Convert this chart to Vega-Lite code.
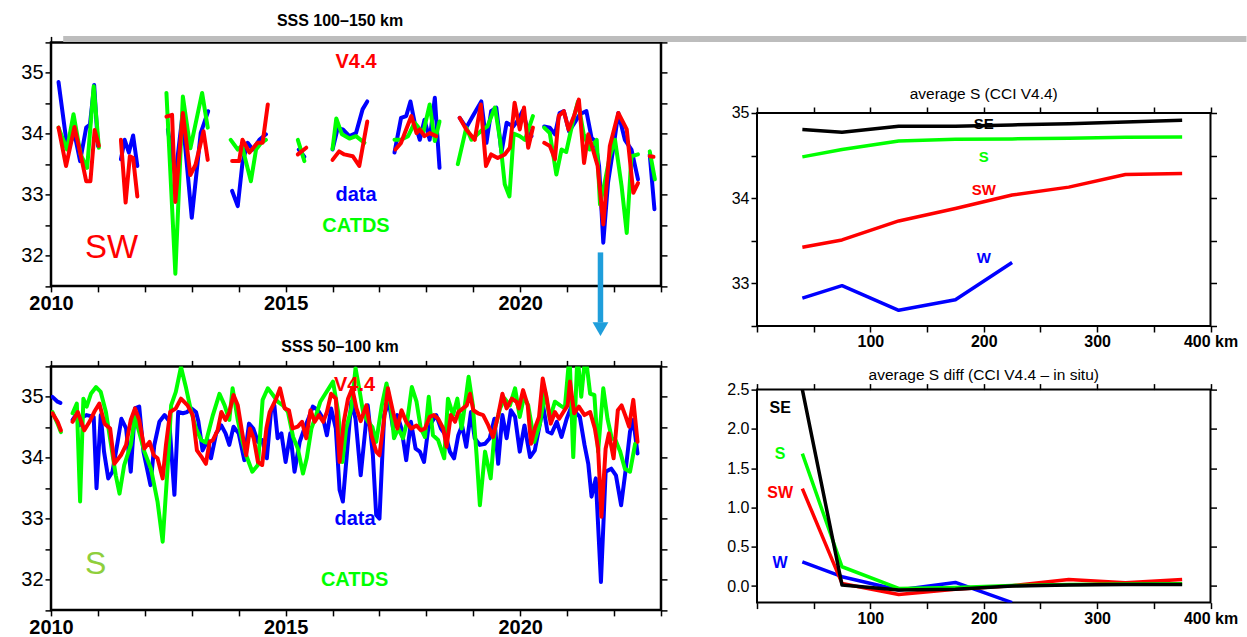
{
"$schema": "https://vega.github.io/schema/vega-lite/v6.json",
"padding": {"left": 19, "top": 11.4, "right": 0, "bottom": 0},
"background": "white",
"config": {
 "font": "Liberation Sans",
 "view": {"stroke": "black", "strokeWidth": 2.5},
 "axis": {"domain": false, "grid": false, "tickColor": "black", "tickWidth": 1.5, "tickSize": 6, "labelColor": "black", "labelFont": "Liberation Sans", "labelPadding": 2, "labelOverlap": false, "labelFlush": false, "labelBound": false},
 "title": {"font": "Liberation Sans", "color": "black"}
},
"datasets": {
 "tl": [
  {"t":2010.16,"v":34.85,"s":"data","g":"dA"},{"t":2010.35,"v":33.75,"s":"data","g":"dA"},{"t":2010.5,"v":34.0,"s":"data","g":"dA"},{"t":2010.62,"v":33.55,"s":"data","g":"dA"},{"t":2010.75,"v":34.1,"s":"data","g":"dA"},{"t":2010.83,"v":34.15,"s":"data","g":"dA"},{"t":2010.92,"v":34.8,"s":"data","g":"dA"},{"t":2011.0,"v":33.8,"s":"data","g":"dA"},
  {"t":2011.49,"v":33.58,"s":"data","g":"dB"},{"t":2011.57,"v":33.9,"s":"data","g":"dB"},{"t":2011.66,"v":33.69,"s":"data","g":"dB"},{"t":2011.75,"v":33.97,"s":"data","g":"dB"},{"t":2011.84,"v":33.47,"s":"data","g":"dB"},
  {"t":2012.49,"v":34.07,"s":"data","g":"dC"},{"t":2012.65,"v":33.3,"s":"data","g":"dC"},{"t":2012.8,"v":34.29,"s":"data","g":"dC"},{"t":2013.0,"v":32.62,"s":"data","g":"dC"},{"t":2013.19,"v":34.01,"s":"data","g":"dC"},{"t":2013.35,"v":34.37,"s":"data","g":"dC"},
  {"t":2013.86,"v":33.06,"s":"data","g":"dD"},{"t":2013.98,"v":32.81,"s":"data","g":"dD"},{"t":2014.08,"v":33.52,"s":"data","g":"dD"},{"t":2014.19,"v":33.85,"s":"data","g":"dD"},{"t":2014.3,"v":33.74,"s":"data","g":"dD"},{"t":2014.44,"v":33.9,"s":"data","g":"dD"},{"t":2014.58,"v":33.99,"s":"data","g":"dD"},
  {"t":2015.28,"v":33.74,"s":"data","g":"dE"},{"t":2015.4,"v":33.62,"s":"data","g":"dE"},
  {"t":2016.0,"v":33.74,"s":"data","g":"dF"},{"t":2016.11,"v":34.09,"s":"data","g":"dF"},{"t":2016.22,"v":34.07,"s":"data","g":"dF"},{"t":2016.36,"v":33.96,"s":"data","g":"dF"},{"t":2016.5,"v":34.01,"s":"data","g":"dF"},{"t":2016.64,"v":34.4,"s":"data","g":"dF"},{"t":2016.74,"v":34.53,"s":"data","g":"dF"},
  {"t":2017.32,"v":33.69,"s":"data","g":"dG"},{"t":2017.46,"v":34.26,"s":"data","g":"dG"},{"t":2017.57,"v":34.29,"s":"data","g":"dG"},{"t":2017.66,"v":34.53,"s":"data","g":"dG"},{"t":2017.75,"v":34.18,"s":"data","g":"dG"},{"t":2017.86,"v":33.9,"s":"data","g":"dG"},{"t":2017.96,"v":34.23,"s":"data","g":"dG"},{"t":2018.07,"v":33.9,"s":"data","g":"dG"},{"t":2018.18,"v":34.59,"s":"data","g":"dG"},{"t":2018.28,"v":33.44,"s":"data","g":"dG"},
  {"t":2018.71,"v":34.26,"s":"data","g":"dH"},{"t":2018.85,"v":34.1,"s":"data","g":"dH"},{"t":2018.99,"v":34.29,"s":"data","g":"dH"},{"t":2019.17,"v":34.53,"s":"data","g":"dH"},{"t":2019.28,"v":33.85,"s":"data","g":"dH"},{"t":2019.38,"v":34.37,"s":"data","g":"dH"},{"t":2019.49,"v":34.43,"s":"data","g":"dH"},{"t":2019.6,"v":33.69,"s":"data","g":"dH"},{"t":2019.71,"v":34.18,"s":"data","g":"dH"},{"t":2019.85,"v":34.12,"s":"data","g":"dH"},{"t":2019.96,"v":34.23,"s":"data","g":"dH"},{"t":2020.05,"v":34.37,"s":"data","g":"dH"},{"t":2020.13,"v":34.15,"s":"data","g":"dH"},{"t":2020.24,"v":33.96,"s":"data","g":"dH"},
  {"t":2020.51,"v":34.12,"s":"data","g":"dI"},{"t":2020.63,"v":34.1,"s":"data","g":"dI"},{"t":2020.74,"v":33.99,"s":"data","g":"dI"},{"t":2020.84,"v":34.34,"s":"data","g":"dI"},{"t":2020.93,"v":34.37,"s":"data","g":"dI"},{"t":2021.04,"v":34.04,"s":"data","g":"dI"},{"t":2021.16,"v":34.18,"s":"data","g":"dI"},{"t":2021.27,"v":34.32,"s":"data","g":"dI"},{"t":2021.41,"v":34.37,"s":"data","g":"dI"},{"t":2021.52,"v":33.93,"s":"data","g":"dI"},{"t":2021.6,"v":33.88,"s":"data","g":"dI"},{"t":2021.68,"v":33.47,"s":"data","g":"dI"},{"t":2021.77,"v":32.21,"s":"data","g":"dI"},{"t":2021.87,"v":33.19,"s":"data","g":"dI"},{"t":2021.98,"v":33.74,"s":"data","g":"dI"},{"t":2022.09,"v":34.34,"s":"data","g":"dI"},{"t":2022.23,"v":33.9,"s":"data","g":"dI"},{"t":2022.37,"v":33.74,"s":"data","g":"dI"},{"t":2022.51,"v":33.25,"s":"data","g":"dI"},
  {"t":2022.76,"v":33.66,"s":"data","g":"dJ"},{"t":2022.86,"v":32.76,"s":"data","g":"dJ"},
  {"t":2010.16,"v":34.1,"s":"CATDS","g":"cA"},{"t":2010.34,"v":33.74,"s":"CATDS","g":"cA"},{"t":2010.48,"v":34.32,"s":"CATDS","g":"cA"},{"t":2010.63,"v":33.66,"s":"CATDS","g":"cA"},{"t":2010.77,"v":33.44,"s":"CATDS","g":"cA"},{"t":2010.91,"v":34.78,"s":"CATDS","g":"cA"},{"t":2011.02,"v":33.77,"s":"CATDS","g":"cA"},
  {"t":2012.46,"v":34.67,"s":"CATDS","g":"cC"},{"t":2012.65,"v":31.7,"s":"CATDS","g":"cC"},{"t":2012.81,"v":34.61,"s":"CATDS","g":"cC"},{"t":2012.97,"v":33.76,"s":"CATDS","g":"cC"},{"t":2013.22,"v":34.67,"s":"CATDS","g":"cC"},{"t":2013.34,"v":34.1,"s":"CATDS","g":"cC"},
  {"t":2013.83,"v":33.9,"s":"CATDS","g":"cD"},{"t":2013.98,"v":33.74,"s":"CATDS","g":"cD"},{"t":2014.07,"v":33.8,"s":"CATDS","g":"cD"},{"t":2014.26,"v":33.22,"s":"CATDS","g":"cD"},{"t":2014.37,"v":33.74,"s":"CATDS","g":"cD"},{"t":2014.48,"v":33.85,"s":"CATDS","g":"cD"},{"t":2014.58,"v":33.9,"s":"CATDS","g":"cD"},
  {"t":2015.26,"v":33.9,"s":"CATDS","g":"cE"},{"t":2015.4,"v":33.55,"s":"CATDS","g":"cE"},
  {"t":2016.0,"v":33.75,"s":"CATDS","g":"cF"},{"t":2016.08,"v":34.25,"s":"CATDS","g":"cF"},{"t":2016.2,"v":33.99,"s":"CATDS","g":"cF"},{"t":2016.36,"v":33.92,"s":"CATDS","g":"cF"},{"t":2016.5,"v":33.96,"s":"CATDS","g":"cF"},{"t":2016.68,"v":33.85,"s":"CATDS","g":"cF"},
  {"t":2017.32,"v":33.9,"s":"CATDS","g":"cG"},{"t":2017.46,"v":33.9,"s":"CATDS","g":"cG"},{"t":2017.61,"v":33.96,"s":"CATDS","g":"cG"},{"t":2017.75,"v":34.18,"s":"CATDS","g":"cG"},{"t":2017.93,"v":34.01,"s":"CATDS","g":"cG"},{"t":2018.07,"v":34.48,"s":"CATDS","g":"cG"},{"t":2018.18,"v":33.88,"s":"CATDS","g":"cG"},{"t":2018.28,"v":34.2,"s":"CATDS","g":"cG"},
  {"t":2018.67,"v":33.5,"s":"CATDS","g":"cH"},{"t":2018.85,"v":34.1,"s":"CATDS","g":"cH"},{"t":2018.96,"v":33.9,"s":"CATDS","g":"cH"},{"t":2019.17,"v":34.05,"s":"CATDS","g":"cH"},{"t":2019.3,"v":34.12,"s":"CATDS","g":"cH"},{"t":2019.46,"v":34.43,"s":"CATDS","g":"cH"},{"t":2019.57,"v":33.9,"s":"CATDS","g":"cH"},{"t":2019.67,"v":33.17,"s":"CATDS","g":"cH"},{"t":2019.77,"v":32.97,"s":"CATDS","g":"cH"},{"t":2019.86,"v":34.0,"s":"CATDS","g":"cH"},{"t":2019.99,"v":33.96,"s":"CATDS","g":"cH"},{"t":2020.1,"v":33.9,"s":"CATDS","g":"cH"},{"t":2020.27,"v":34.29,"s":"CATDS","g":"cH"},
  {"t":2020.51,"v":34.1,"s":"CATDS","g":"cI"},{"t":2020.63,"v":34.01,"s":"CATDS","g":"cI"},{"t":2020.77,"v":33.33,"s":"CATDS","g":"cI"},{"t":2020.88,"v":33.74,"s":"CATDS","g":"cI"},{"t":2020.98,"v":33.7,"s":"CATDS","g":"cI"},{"t":2021.13,"v":34.23,"s":"CATDS","g":"cI"},{"t":2021.23,"v":34.53,"s":"CATDS","g":"cI"},{"t":2021.35,"v":34.0,"s":"CATDS","g":"cI"},{"t":2021.48,"v":33.74,"s":"CATDS","g":"cI"},{"t":2021.63,"v":33.9,"s":"CATDS","g":"cI"},{"t":2021.7,"v":32.84,"s":"CATDS","g":"cI"},{"t":2021.8,"v":33.2,"s":"CATDS","g":"cI"},{"t":2021.91,"v":33.63,"s":"CATDS","g":"cI"},{"t":2022.02,"v":33.9,"s":"CATDS","g":"cI"},{"t":2022.16,"v":33.14,"s":"CATDS","g":"cI"},{"t":2022.27,"v":32.37,"s":"CATDS","g":"cI"},{"t":2022.37,"v":33.63,"s":"CATDS","g":"cI"},{"t":2022.51,"v":33.66,"s":"CATDS","g":"cI"},
  {"t":2022.76,"v":33.71,"s":"CATDS","g":"cJ"},{"t":2022.87,"v":33.25,"s":"CATDS","g":"cJ"},
  {"t":2010.16,"v":34.1,"s":"V4.4","g":"rA"},{"t":2010.32,"v":33.47,"s":"V4.4","g":"rA"},{"t":2010.5,"v":34.11,"s":"V4.4","g":"rA"},{"t":2010.63,"v":33.66,"s":"V4.4","g":"rA"},{"t":2010.75,"v":33.22,"s":"V4.4","g":"rA"},{"t":2010.84,"v":33.22,"s":"V4.4","g":"rA"},{"t":2010.93,"v":34.06,"s":"V4.4","g":"rA"},{"t":2011.02,"v":33.8,"s":"V4.4","g":"rA"},
  {"t":2011.49,"v":33.9,"s":"V4.4","g":"rB"},{"t":2011.59,"v":32.87,"s":"V4.4","g":"rB"},{"t":2011.68,"v":33.63,"s":"V4.4","g":"rB"},{"t":2011.75,"v":33.6,"s":"V4.4","g":"rB"},{"t":2011.84,"v":32.97,"s":"V4.4","g":"rB"},
  {"t":2012.46,"v":34.28,"s":"V4.4","g":"rC"},{"t":2012.58,"v":34.31,"s":"V4.4","g":"rC"},{"t":2012.65,"v":32.88,"s":"V4.4","g":"rC"},{"t":2012.81,"v":34.34,"s":"V4.4","g":"rC"},{"t":2012.97,"v":33.32,"s":"V4.4","g":"rC"},{"t":2013.08,"v":33.49,"s":"V4.4","g":"rC"},{"t":2013.25,"v":34.04,"s":"V4.4","g":"rC"},{"t":2013.34,"v":33.57,"s":"V4.4","g":"rC"},
  {"t":2013.86,"v":33.55,"s":"V4.4","g":"rD"},{"t":2014.01,"v":33.55,"s":"V4.4","g":"rD"},{"t":2014.08,"v":33.9,"s":"V4.4","g":"rD"},{"t":2014.23,"v":33.69,"s":"V4.4","g":"rD"},{"t":2014.4,"v":33.85,"s":"V4.4","g":"rD"},{"t":2014.51,"v":33.85,"s":"V4.4","g":"rD"},{"t":2014.62,"v":34.48,"s":"V4.4","g":"rD"},
  {"t":2015.26,"v":33.66,"s":"V4.4","g":"rE"},{"t":2015.44,"v":33.77,"s":"V4.4","g":"rE"},
  {"t":2016.0,"v":33.57,"s":"V4.4","g":"rF"},{"t":2016.14,"v":33.71,"s":"V4.4","g":"rF"},{"t":2016.25,"v":33.66,"s":"V4.4","g":"rF"},{"t":2016.43,"v":33.63,"s":"V4.4","g":"rF"},{"t":2016.57,"v":33.47,"s":"V4.4","g":"rF"},{"t":2016.74,"v":34.2,"s":"V4.4","g":"rF"},
  {"t":2017.34,"v":33.74,"s":"V4.4","g":"rG"},{"t":2017.46,"v":33.85,"s":"V4.4","g":"rG"},{"t":2017.68,"v":34.29,"s":"V4.4","g":"rG"},{"t":2017.79,"v":34.01,"s":"V4.4","g":"rG"},{"t":2017.86,"v":34.07,"s":"V4.4","g":"rG"},{"t":2017.96,"v":33.96,"s":"V4.4","g":"rG"},{"t":2018.07,"v":34.01,"s":"V4.4","g":"rG"},{"t":2018.21,"v":33.96,"s":"V4.4","g":"rG"},
  {"t":2018.71,"v":34.26,"s":"V4.4","g":"rH"},{"t":2018.85,"v":34.07,"s":"V4.4","g":"rH"},{"t":2019.03,"v":33.9,"s":"V4.4","g":"rH"},{"t":2019.16,"v":34.48,"s":"V4.4","g":"rH"},{"t":2019.27,"v":33.47,"s":"V4.4","g":"rH"},{"t":2019.38,"v":33.66,"s":"V4.4","g":"rH"},{"t":2019.52,"v":33.6,"s":"V4.4","g":"rH"},{"t":2019.67,"v":33.66,"s":"V4.4","g":"rH"},{"t":2019.78,"v":33.77,"s":"V4.4","g":"rH"},{"t":2019.88,"v":34.51,"s":"V4.4","g":"rH"},{"t":2019.99,"v":34.07,"s":"V4.4","g":"rH"},{"t":2020.08,"v":34.43,"s":"V4.4","g":"rH"},{"t":2020.17,"v":33.77,"s":"V4.4","g":"rH"},{"t":2020.27,"v":34.1,"s":"V4.4","g":"rH"},
  {"t":2020.51,"v":33.85,"s":"V4.4","g":"rI"},{"t":2020.63,"v":33.8,"s":"V4.4","g":"rI"},{"t":2020.74,"v":33.58,"s":"V4.4","g":"rI"},{"t":2020.82,"v":34.29,"s":"V4.4","g":"rI"},{"t":2020.93,"v":34.37,"s":"V4.4","g":"rI"},{"t":2021.03,"v":34.07,"s":"V4.4","g":"rI"},{"t":2021.15,"v":34.3,"s":"V4.4","g":"rI"},{"t":2021.25,"v":34.56,"s":"V4.4","g":"rI"},{"t":2021.36,"v":33.52,"s":"V4.4","g":"rI"},{"t":2021.45,"v":33.99,"s":"V4.4","g":"rI"},{"t":2021.55,"v":33.74,"s":"V4.4","g":"rI"},{"t":2021.65,"v":33.47,"s":"V4.4","g":"rI"},{"t":2021.77,"v":32.51,"s":"V4.4","g":"rI"},{"t":2021.91,"v":33.8,"s":"V4.4","g":"rI"},{"t":2022.09,"v":34.34,"s":"V4.4","g":"rI"},{"t":2022.27,"v":34.07,"s":"V4.4","g":"rI"},{"t":2022.41,"v":33.03,"s":"V4.4","g":"rI"},{"t":2022.51,"v":33.19,"s":"V4.4","g":"rI"},
  {"t":2022.76,"v":33.63,"s":"V4.4","g":"rJ"},{"t":2022.84,"v":33.62,"s":"V4.4","g":"rJ"}
 ],
 "bl": [
  {"t":2010.03,"v":35.0,"s":"data","g":"d0"},{"t":2010.14,"v":34.92,"s":"data","g":"d0"},{"t":2010.2,"v":34.9,"s":"data","g":"d0"},
  {"t":2010.46,"v":34.62,"s":"data","g":"d1"},{"t":2010.53,"v":34.7,"s":"data","g":"d1"},{"t":2010.6,"v":34.53,"s":"data","g":"d1"},{"t":2010.67,"v":34.67,"s":"data","g":"d1"},{"t":2010.76,"v":34.7,"s":"data","g":"d1"},{"t":2010.91,"v":34.67,"s":"data","g":"d1"},{"t":2010.97,"v":33.5,"s":"data","g":"d1"},{"t":2011.06,"v":34.7,"s":"data","g":"d1"},{"t":2011.13,"v":34.1,"s":"data","g":"d1"},{"t":2011.22,"v":33.66,"s":"data","g":"d1"},{"t":2011.31,"v":33.77,"s":"data","g":"d1"},{"t":2011.42,"v":34.26,"s":"data","g":"d1"},{"t":2011.5,"v":34.64,"s":"data","g":"d1"},{"t":2011.6,"v":34.48,"s":"data","g":"d1"},{"t":2011.7,"v":33.77,"s":"data","g":"d1"},{"t":2011.79,"v":34.81,"s":"data","g":"d1"},{"t":2011.88,"v":34.84,"s":"data","g":"d1"},{"t":2011.97,"v":34.1,"s":"data","g":"d1"},{"t":2012.12,"v":33.55,"s":"data","g":"d1"},{"t":2012.2,"v":34.2,"s":"data","g":"d1"},{"t":2012.31,"v":34.59,"s":"data","g":"d1"},{"t":2012.42,"v":34.7,"s":"data","g":"d1"},{"t":2012.52,"v":34.6,"s":"data","g":"d1"},{"t":2012.63,"v":33.39,"s":"data","g":"d1"},{"t":2012.71,"v":34.75,"s":"data","g":"d1"},{"t":2012.81,"v":34.73,"s":"data","g":"d1"},{"t":2012.9,"v":34.75,"s":"data","g":"d1"},{"t":2012.99,"v":34.81,"s":"data","g":"d1"},{"t":2013.09,"v":34.75,"s":"data","g":"d1"},{"t":2013.14,"v":34.6,"s":"data","g":"d1"},{"t":2013.23,"v":34.12,"s":"data","g":"d1"},{"t":2013.34,"v":34.29,"s":"data","g":"d1"},{"t":2013.41,"v":33.99,"s":"data","g":"d1"},{"t":2013.52,"v":34.4,"s":"data","g":"d1"},{"t":2013.63,"v":34.53,"s":"data","g":"d1"},{"t":2013.72,"v":34.4,"s":"data","g":"d1"},{"t":2013.8,"v":34.21,"s":"data","g":"d1"},{"t":2013.89,"v":34.51,"s":"data","g":"d1"},{"t":2014.0,"v":34.4,"s":"data","g":"d1"},{"t":2014.12,"v":33.96,"s":"data","g":"d1"},{"t":2014.22,"v":34.56,"s":"data","g":"d1"},{"t":2014.31,"v":34.48,"s":"data","g":"d1"},{"t":2014.41,"v":34.26,"s":"data","g":"d1"},{"t":2014.5,"v":34.29,"s":"data","g":"d1"},{"t":2014.6,"v":33.99,"s":"data","g":"d1"},{"t":2014.69,"v":34.78,"s":"data","g":"d1"},{"t":2014.76,"v":34.86,"s":"data","g":"d1"},{"t":2014.83,"v":34.32,"s":"data","g":"d1"},{"t":2014.91,"v":34.4,"s":"data","g":"d1"},{"t":2015.0,"v":33.93,"s":"data","g":"d1"},{"t":2015.1,"v":34.4,"s":"data","g":"d1"},{"t":2015.19,"v":33.77,"s":"data","g":"d1"},{"t":2015.3,"v":34.26,"s":"data","g":"d1"},{"t":2015.4,"v":34.48,"s":"data","g":"d1"},{"t":2015.5,"v":34.67,"s":"data","g":"d1"},{"t":2015.58,"v":34.84,"s":"data","g":"d1"},{"t":2015.69,"v":34.78,"s":"data","g":"d1"},{"t":2015.8,"v":34.64,"s":"data","g":"d1"},{"t":2015.88,"v":34.37,"s":"data","g":"d1"},{"t":2015.97,"v":34.81,"s":"data","g":"d1"},{"t":2016.07,"v":34.48,"s":"data","g":"d1"},{"t":2016.15,"v":33.47,"s":"data","g":"d1"},{"t":2016.22,"v":33.28,"s":"data","g":"d1"},{"t":2016.31,"v":34.1,"s":"data","g":"d1"},{"t":2016.4,"v":34.92,"s":"data","g":"d1"},{"t":2016.49,"v":34.64,"s":"data","g":"d1"},{"t":2016.6,"v":33.71,"s":"data","g":"d1"},{"t":2016.75,"v":34.86,"s":"data","g":"d1"},{"t":2016.86,"v":34.04,"s":"data","g":"d1"},{"t":2016.93,"v":33.06,"s":"data","g":"d1"},{"t":2017.0,"v":33.0,"s":"data","g":"d1"},{"t":2017.1,"v":34.7,"s":"data","g":"d1"},{"t":2017.2,"v":34.92,"s":"data","g":"d1"},{"t":2017.29,"v":34.48,"s":"data","g":"d1"},{"t":2017.38,"v":34.7,"s":"data","g":"d1"},{"t":2017.47,"v":34.48,"s":"data","g":"d1"},{"t":2017.57,"v":33.96,"s":"data","g":"d1"},{"t":2017.67,"v":34.59,"s":"data","g":"d1"},{"t":2017.77,"v":34.15,"s":"data","g":"d1"},{"t":2017.86,"v":34.1,"s":"data","g":"d1"},{"t":2017.95,"v":33.93,"s":"data","g":"d1"},{"t":2018.04,"v":34.48,"s":"data","g":"d1"},{"t":2018.12,"v":34.59,"s":"data","g":"d1"},{"t":2018.21,"v":34.7,"s":"data","g":"d1"},{"t":2018.31,"v":34.48,"s":"data","g":"d1"},{"t":2018.41,"v":34.37,"s":"data","g":"d1"},{"t":2018.5,"v":34.1,"s":"data","g":"d1"},{"t":2018.59,"v":33.99,"s":"data","g":"d1"},{"t":2018.68,"v":34.37,"s":"data","g":"d1"},{"t":2018.76,"v":34.53,"s":"data","g":"d1"},{"t":2018.85,"v":34.18,"s":"data","g":"d1"},{"t":2018.95,"v":34.75,"s":"data","g":"d1"},{"t":2019.03,"v":34.32,"s":"data","g":"d1"},{"t":2019.14,"v":34.21,"s":"data","g":"d1"},{"t":2019.25,"v":34.23,"s":"data","g":"d1"},{"t":2019.35,"v":34.32,"s":"data","g":"d1"},{"t":2019.45,"v":34.64,"s":"data","g":"d1"},{"t":2019.53,"v":33.9,"s":"data","g":"d1"},{"t":2019.62,"v":34.7,"s":"data","g":"d1"},{"t":2019.71,"v":34.32,"s":"data","g":"d1"},{"t":2019.8,"v":34.78,"s":"data","g":"d1"},{"t":2019.89,"v":34.67,"s":"data","g":"d1"},{"t":2019.99,"v":34.1,"s":"data","g":"d1"},{"t":2020.09,"v":34.53,"s":"data","g":"d1"},{"t":2020.21,"v":34.01,"s":"data","g":"d1"},{"t":2020.31,"v":34.12,"s":"data","g":"d1"},{"t":2020.42,"v":34.56,"s":"data","g":"d1"},{"t":2020.49,"v":34.84,"s":"data","g":"d1"},{"t":2020.58,"v":34.43,"s":"data","g":"d1"},{"t":2020.67,"v":34.4,"s":"data","g":"d1"},{"t":2020.78,"v":34.59,"s":"data","g":"d1"},{"t":2020.88,"v":34.34,"s":"data","g":"d1"},{"t":2020.99,"v":34.64,"s":"data","g":"d1"},{"t":2021.1,"v":34.86,"s":"data","g":"d1"},{"t":2021.2,"v":34.73,"s":"data","g":"d1"},{"t":2021.27,"v":34.67,"s":"data","g":"d1"},{"t":2021.37,"v":34.21,"s":"data","g":"d1"},{"t":2021.45,"v":33.9,"s":"data","g":"d1"},{"t":2021.52,"v":33.36,"s":"data","g":"d1"},{"t":2021.61,"v":33.66,"s":"data","g":"d1"},{"t":2021.72,"v":31.96,"s":"data","g":"d1"},{"t":2021.82,"v":33.77,"s":"data","g":"d1"},{"t":2021.94,"v":33.82,"s":"data","g":"d1"},{"t":2022.04,"v":33.71,"s":"data","g":"d1"},{"t":2022.15,"v":33.22,"s":"data","g":"d1"},{"t":2022.25,"v":33.82,"s":"data","g":"d1"},{"t":2022.34,"v":34.43,"s":"data","g":"d1"},{"t":2022.41,"v":34.62,"s":"data","g":"d1"},{"t":2022.5,"v":34.07,"s":"data","g":"d1"},
  {"t":2010.03,"v":34.75,"s":"CATDS","g":"c0"},{"t":2010.14,"v":34.56,"s":"CATDS","g":"c0"},{"t":2010.21,"v":34.42,"s":"CATDS","g":"c0"},
  {"t":2010.46,"v":34.73,"s":"CATDS","g":"c1"},{"t":2010.55,"v":34.89,"s":"CATDS","g":"c1"},{"t":2010.62,"v":33.28,"s":"CATDS","g":"c1"},{"t":2010.69,"v":34.97,"s":"CATDS","g":"c1"},{"t":2010.76,"v":34.84,"s":"CATDS","g":"c1"},{"t":2010.85,"v":35.05,"s":"CATDS","g":"c1"},{"t":2010.96,"v":35.16,"s":"CATDS","g":"c1"},{"t":2011.06,"v":35.08,"s":"CATDS","g":"c1"},{"t":2011.17,"v":34.75,"s":"CATDS","g":"c1"},{"t":2011.28,"v":34.21,"s":"CATDS","g":"c1"},{"t":2011.38,"v":33.71,"s":"CATDS","g":"c1"},{"t":2011.46,"v":33.41,"s":"CATDS","g":"c1"},{"t":2011.56,"v":33.88,"s":"CATDS","g":"c1"},{"t":2011.7,"v":34.21,"s":"CATDS","g":"c1"},{"t":2011.79,"v":34.67,"s":"CATDS","g":"c1"},{"t":2011.88,"v":34.42,"s":"CATDS","g":"c1"},{"t":2011.99,"v":34.1,"s":"CATDS","g":"c1"},{"t":2012.13,"v":33.82,"s":"CATDS","g":"c1"},{"t":2012.27,"v":33.28,"s":"CATDS","g":"c1"},{"t":2012.38,"v":32.62,"s":"CATDS","g":"c1"},{"t":2012.49,"v":33.9,"s":"CATDS","g":"c1"},{"t":2012.56,"v":34.86,"s":"CATDS","g":"c1"},{"t":2012.66,"v":35.08,"s":"CATDS","g":"c1"},{"t":2012.77,"v":35.49,"s":"CATDS","g":"c1"},{"t":2012.88,"v":35.14,"s":"CATDS","g":"c1"},{"t":2012.99,"v":34.75,"s":"CATDS","g":"c1"},{"t":2013.09,"v":34.48,"s":"CATDS","g":"c1"},{"t":2013.2,"v":34.29,"s":"CATDS","g":"c1"},{"t":2013.3,"v":34.25,"s":"CATDS","g":"c1"},{"t":2013.45,"v":34.7,"s":"CATDS","g":"c1"},{"t":2013.59,"v":35.05,"s":"CATDS","g":"c1"},{"t":2013.7,"v":34.86,"s":"CATDS","g":"c1"},{"t":2013.8,"v":34.62,"s":"CATDS","g":"c1"},{"t":2013.87,"v":35.14,"s":"CATDS","g":"c1"},{"t":2013.98,"v":34.62,"s":"CATDS","g":"c1"},{"t":2014.07,"v":34.3,"s":"CATDS","g":"c1"},{"t":2014.16,"v":34.04,"s":"CATDS","g":"c1"},{"t":2014.29,"v":33.77,"s":"CATDS","g":"c1"},{"t":2014.41,"v":33.88,"s":"CATDS","g":"c1"},{"t":2014.51,"v":34.95,"s":"CATDS","g":"c1"},{"t":2014.62,"v":35.14,"s":"CATDS","g":"c1"},{"t":2014.73,"v":35.03,"s":"CATDS","g":"c1"},{"t":2014.83,"v":34.92,"s":"CATDS","g":"c1"},{"t":2014.94,"v":34.86,"s":"CATDS","g":"c1"},{"t":2015.05,"v":34.75,"s":"CATDS","g":"c1"},{"t":2015.16,"v":34.34,"s":"CATDS","g":"c1"},{"t":2015.26,"v":34.15,"s":"CATDS","g":"c1"},{"t":2015.37,"v":33.74,"s":"CATDS","g":"c1"},{"t":2015.45,"v":33.99,"s":"CATDS","g":"c1"},{"t":2015.55,"v":34.48,"s":"CATDS","g":"c1"},{"t":2015.65,"v":34.7,"s":"CATDS","g":"c1"},{"t":2015.74,"v":34.92,"s":"CATDS","g":"c1"},{"t":2015.83,"v":35.03,"s":"CATDS","g":"c1"},{"t":2015.92,"v":35.14,"s":"CATDS","g":"c1"},{"t":2016.01,"v":35.25,"s":"CATDS","g":"c1"},{"t":2016.12,"v":34.75,"s":"CATDS","g":"c1"},{"t":2016.21,"v":33.93,"s":"CATDS","g":"c1"},{"t":2016.29,"v":34.48,"s":"CATDS","g":"c1"},{"t":2016.4,"v":34.81,"s":"CATDS","g":"c1"},{"t":2016.49,"v":35.47,"s":"CATDS","g":"c1"},{"t":2016.58,"v":35.08,"s":"CATDS","g":"c1"},{"t":2016.65,"v":34.75,"s":"CATDS","g":"c1"},{"t":2016.75,"v":34.6,"s":"CATDS","g":"c1"},{"t":2016.85,"v":34.5,"s":"CATDS","g":"c1"},{"t":2016.93,"v":34.26,"s":"CATDS","g":"c1"},{"t":2017.05,"v":34.86,"s":"CATDS","g":"c1"},{"t":2017.15,"v":35.22,"s":"CATDS","g":"c1"},{"t":2017.24,"v":34.86,"s":"CATDS","g":"c1"},{"t":2017.31,"v":34.32,"s":"CATDS","g":"c1"},{"t":2017.4,"v":34.48,"s":"CATDS","g":"c1"},{"t":2017.5,"v":34.32,"s":"CATDS","g":"c1"},{"t":2017.59,"v":34.59,"s":"CATDS","g":"c1"},{"t":2017.69,"v":35.16,"s":"CATDS","g":"c1"},{"t":2017.79,"v":34.92,"s":"CATDS","g":"c1"},{"t":2017.88,"v":34.48,"s":"CATDS","g":"c1"},{"t":2017.97,"v":34.34,"s":"CATDS","g":"c1"},{"t":2018.05,"v":35.0,"s":"CATDS","g":"c1"},{"t":2018.14,"v":34.37,"s":"CATDS","g":"c1"},{"t":2018.25,"v":34.29,"s":"CATDS","g":"c1"},{"t":2018.38,"v":33.99,"s":"CATDS","g":"c1"},{"t":2018.46,"v":34.97,"s":"CATDS","g":"c1"},{"t":2018.57,"v":34.7,"s":"CATDS","g":"c1"},{"t":2018.66,"v":34.97,"s":"CATDS","g":"c1"},{"t":2018.75,"v":34.48,"s":"CATDS","g":"c1"},{"t":2018.82,"v":34.86,"s":"CATDS","g":"c1"},{"t":2018.9,"v":35.33,"s":"CATDS","g":"c1"},{"t":2018.99,"v":34.86,"s":"CATDS","g":"c1"},{"t":2019.07,"v":34.04,"s":"CATDS","g":"c1"},{"t":2019.14,"v":33.22,"s":"CATDS","g":"c1"},{"t":2019.25,"v":34.1,"s":"CATDS","g":"c1"},{"t":2019.37,"v":33.66,"s":"CATDS","g":"c1"},{"t":2019.46,"v":34.48,"s":"CATDS","g":"c1"},{"t":2019.57,"v":34.81,"s":"CATDS","g":"c1"},{"t":2019.67,"v":34.97,"s":"CATDS","g":"c1"},{"t":2019.78,"v":34.86,"s":"CATDS","g":"c1"},{"t":2019.89,"v":35.14,"s":"CATDS","g":"c1"},{"t":2019.99,"v":34.67,"s":"CATDS","g":"c1"},{"t":2020.08,"v":35.0,"s":"CATDS","g":"c1"},{"t":2020.17,"v":34.86,"s":"CATDS","g":"c1"},{"t":2020.3,"v":34.26,"s":"CATDS","g":"c1"},{"t":2020.42,"v":34.56,"s":"CATDS","g":"c1"},{"t":2020.53,"v":35.08,"s":"CATDS","g":"c1"},{"t":2020.63,"v":34.64,"s":"CATDS","g":"c1"},{"t":2020.74,"v":34.92,"s":"CATDS","g":"c1"},{"t":2020.85,"v":34.86,"s":"CATDS","g":"c1"},{"t":2020.95,"v":34.81,"s":"CATDS","g":"c1"},{"t":2021.05,"v":35.7,"s":"CATDS","g":"c1"},{"t":2021.13,"v":34.01,"s":"CATDS","g":"c1"},{"t":2021.22,"v":35.7,"s":"CATDS","g":"c1"},{"t":2021.3,"v":35.0,"s":"CATDS","g":"c1"},{"t":2021.39,"v":35.7,"s":"CATDS","g":"c1"},{"t":2021.49,"v":35.05,"s":"CATDS","g":"c1"},{"t":2021.58,"v":35.03,"s":"CATDS","g":"c1"},{"t":2021.66,"v":34.1,"s":"CATDS","g":"c1"},{"t":2021.77,"v":35.14,"s":"CATDS","g":"c1"},{"t":2021.86,"v":34.64,"s":"CATDS","g":"c1"},{"t":2021.95,"v":34.32,"s":"CATDS","g":"c1"},{"t":2022.03,"v":34.29,"s":"CATDS","g":"c1"},{"t":2022.13,"v":34.1,"s":"CATDS","g":"c1"},{"t":2022.23,"v":33.82,"s":"CATDS","g":"c1"},{"t":2022.34,"v":33.77,"s":"CATDS","g":"c1"},{"t":2022.45,"v":34.23,"s":"CATDS","g":"c1"},
  {"t":2010.03,"v":34.73,"s":"V4.4","g":"r0"},{"t":2010.14,"v":34.59,"s":"V4.4","g":"r0"},{"t":2010.21,"v":34.45,"s":"V4.4","g":"r0"},
  {"t":2010.46,"v":34.59,"s":"V4.4","g":"r1"},{"t":2010.57,"v":34.75,"s":"V4.4","g":"r1"},{"t":2010.71,"v":34.45,"s":"V4.4","g":"r1"},{"t":2010.82,"v":34.59,"s":"V4.4","g":"r1"},{"t":2010.92,"v":34.75,"s":"V4.4","g":"r1"},{"t":2011.03,"v":34.89,"s":"V4.4","g":"r1"},{"t":2011.14,"v":34.56,"s":"V4.4","g":"r1"},{"t":2011.26,"v":34.48,"s":"V4.4","g":"r1"},{"t":2011.35,"v":33.9,"s":"V4.4","g":"r1"},{"t":2011.49,"v":34.04,"s":"V4.4","g":"r1"},{"t":2011.6,"v":34.21,"s":"V4.4","g":"r1"},{"t":2011.7,"v":34.62,"s":"V4.4","g":"r1"},{"t":2011.79,"v":34.81,"s":"V4.4","g":"r1"},{"t":2011.88,"v":34.62,"s":"V4.4","g":"r1"},{"t":2011.99,"v":34.15,"s":"V4.4","g":"r1"},{"t":2012.1,"v":34.26,"s":"V4.4","g":"r1"},{"t":2012.19,"v":34.04,"s":"V4.4","g":"r1"},{"t":2012.27,"v":33.99,"s":"V4.4","g":"r1"},{"t":2012.38,"v":33.66,"s":"V4.4","g":"r1"},{"t":2012.45,"v":34.21,"s":"V4.4","g":"r1"},{"t":2012.54,"v":34.75,"s":"V4.4","g":"r1"},{"t":2012.66,"v":34.81,"s":"V4.4","g":"r1"},{"t":2012.77,"v":34.97,"s":"V4.4","g":"r1"},{"t":2012.91,"v":34.86,"s":"V4.4","g":"r1"},{"t":2013.02,"v":34.7,"s":"V4.4","g":"r1"},{"t":2013.11,"v":34.12,"s":"V4.4","g":"r1"},{"t":2013.22,"v":34.0,"s":"V4.4","g":"r1"},{"t":2013.3,"v":33.9,"s":"V4.4","g":"r1"},{"t":2013.38,"v":34.26,"s":"V4.4","g":"r1"},{"t":2013.45,"v":34.29,"s":"V4.4","g":"r1"},{"t":2013.55,"v":34.45,"s":"V4.4","g":"r1"},{"t":2013.63,"v":34.75,"s":"V4.4","g":"r1"},{"t":2013.72,"v":34.62,"s":"V4.4","g":"r1"},{"t":2013.8,"v":34.75,"s":"V4.4","g":"r1"},{"t":2013.89,"v":35.03,"s":"V4.4","g":"r1"},{"t":2013.98,"v":34.86,"s":"V4.4","g":"r1"},{"t":2014.07,"v":34.43,"s":"V4.4","g":"r1"},{"t":2014.16,"v":34.04,"s":"V4.4","g":"r1"},{"t":2014.24,"v":34.48,"s":"V4.4","g":"r1"},{"t":2014.32,"v":34.32,"s":"V4.4","g":"r1"},{"t":2014.41,"v":33.93,"s":"V4.4","g":"r1"},{"t":2014.5,"v":33.88,"s":"V4.4","g":"r1"},{"t":2014.59,"v":34.48,"s":"V4.4","g":"r1"},{"t":2014.66,"v":34.75,"s":"V4.4","g":"r1"},{"t":2014.73,"v":34.86,"s":"V4.4","g":"r1"},{"t":2014.8,"v":34.97,"s":"V4.4","g":"r1"},{"t":2014.88,"v":35.14,"s":"V4.4","g":"r1"},{"t":2014.98,"v":34.81,"s":"V4.4","g":"r1"},{"t":2015.07,"v":34.78,"s":"V4.4","g":"r1"},{"t":2015.15,"v":34.48,"s":"V4.4","g":"r1"},{"t":2015.26,"v":34.51,"s":"V4.4","g":"r1"},{"t":2015.35,"v":34.59,"s":"V4.4","g":"r1"},{"t":2015.44,"v":34.32,"s":"V4.4","g":"r1"},{"t":2015.53,"v":34.78,"s":"V4.4","g":"r1"},{"t":2015.62,"v":34.59,"s":"V4.4","g":"r1"},{"t":2015.71,"v":34.7,"s":"V4.4","g":"r1"},{"t":2015.8,"v":34.59,"s":"V4.4","g":"r1"},{"t":2015.88,"v":34.75,"s":"V4.4","g":"r1"},{"t":2015.97,"v":35.05,"s":"V4.4","g":"r1"},{"t":2016.07,"v":34.97,"s":"V4.4","g":"r1"},{"t":2016.15,"v":33.93,"s":"V4.4","g":"r1"},{"t":2016.24,"v":34.59,"s":"V4.4","g":"r1"},{"t":2016.33,"v":34.97,"s":"V4.4","g":"r1"},{"t":2016.42,"v":35.14,"s":"V4.4","g":"r1"},{"t":2016.51,"v":34.81,"s":"V4.4","g":"r1"},{"t":2016.6,"v":34.6,"s":"V4.4","g":"r1"},{"t":2016.72,"v":34.86,"s":"V4.4","g":"r1"},{"t":2016.83,"v":34.37,"s":"V4.4","g":"r1"},{"t":2016.93,"v":34.1,"s":"V4.4","g":"r1"},{"t":2017.0,"v":34.04,"s":"V4.4","g":"r1"},{"t":2017.1,"v":34.64,"s":"V4.4","g":"r1"},{"t":2017.18,"v":35.14,"s":"V4.4","g":"r1"},{"t":2017.29,"v":34.75,"s":"V4.4","g":"r1"},{"t":2017.38,"v":34.48,"s":"V4.4","g":"r1"},{"t":2017.47,"v":34.78,"s":"V4.4","g":"r1"},{"t":2017.57,"v":34.59,"s":"V4.4","g":"r1"},{"t":2017.68,"v":34.48,"s":"V4.4","g":"r1"},{"t":2017.79,"v":34.53,"s":"V4.4","g":"r1"},{"t":2017.88,"v":34.45,"s":"V4.4","g":"r1"},{"t":2017.97,"v":34.48,"s":"V4.4","g":"r1"},{"t":2018.07,"v":34.67,"s":"V4.4","g":"r1"},{"t":2018.16,"v":34.7,"s":"V4.4","g":"r1"},{"t":2018.25,"v":34.64,"s":"V4.4","g":"r1"},{"t":2018.36,"v":34.48,"s":"V4.4","g":"r1"},{"t":2018.43,"v":34.18,"s":"V4.4","g":"r1"},{"t":2018.52,"v":34.7,"s":"V4.4","g":"r1"},{"t":2018.61,"v":34.59,"s":"V4.4","g":"r1"},{"t":2018.68,"v":34.75,"s":"V4.4","g":"r1"},{"t":2018.78,"v":34.81,"s":"V4.4","g":"r1"},{"t":2018.86,"v":34.86,"s":"V4.4","g":"r1"},{"t":2018.93,"v":35.05,"s":"V4.4","g":"r1"},{"t":2019.0,"v":34.78,"s":"V4.4","g":"r1"},{"t":2019.1,"v":34.73,"s":"V4.4","g":"r1"},{"t":2019.21,"v":34.7,"s":"V4.4","g":"r1"},{"t":2019.32,"v":34.53,"s":"V4.4","g":"r1"},{"t":2019.42,"v":34.34,"s":"V4.4","g":"r1"},{"t":2019.53,"v":34.7,"s":"V4.4","g":"r1"},{"t":2019.62,"v":35.05,"s":"V4.4","g":"r1"},{"t":2019.71,"v":34.81,"s":"V4.4","g":"r1"},{"t":2019.82,"v":34.97,"s":"V4.4","g":"r1"},{"t":2019.92,"v":34.92,"s":"V4.4","g":"r1"},{"t":2019.97,"v":34.81,"s":"V4.4","g":"r1"},{"t":2020.06,"v":35.11,"s":"V4.4","g":"r1"},{"t":2020.16,"v":34.86,"s":"V4.4","g":"r1"},{"t":2020.23,"v":34.23,"s":"V4.4","g":"r1"},{"t":2020.31,"v":34.48,"s":"V4.4","g":"r1"},{"t":2020.4,"v":34.67,"s":"V4.4","g":"r1"},{"t":2020.48,"v":35.3,"s":"V4.4","g":"r1"},{"t":2020.56,"v":35.0,"s":"V4.4","g":"r1"},{"t":2020.65,"v":34.56,"s":"V4.4","g":"r1"},{"t":2020.74,"v":34.75,"s":"V4.4","g":"r1"},{"t":2020.83,"v":34.64,"s":"V4.4","g":"r1"},{"t":2020.92,"v":34.75,"s":"V4.4","g":"r1"},{"t":2021.01,"v":34.86,"s":"V4.4","g":"r1"},{"t":2021.06,"v":35.25,"s":"V4.4","g":"r1"},{"t":2021.15,"v":34.73,"s":"V4.4","g":"r1"},{"t":2021.25,"v":34.84,"s":"V4.4","g":"r1"},{"t":2021.37,"v":34.7,"s":"V4.4","g":"r1"},{"t":2021.49,"v":34.75,"s":"V4.4","g":"r1"},{"t":2021.59,"v":34.48,"s":"V4.4","g":"r1"},{"t":2021.66,"v":34.15,"s":"V4.4","g":"r1"},{"t":2021.73,"v":33.03,"s":"V4.4","g":"r1"},{"t":2021.82,"v":34.15,"s":"V4.4","g":"r1"},{"t":2021.89,"v":34.4,"s":"V4.4","g":"r1"},{"t":2021.99,"v":33.99,"s":"V4.4","g":"r1"},{"t":2022.08,"v":34.78,"s":"V4.4","g":"r1"},{"t":2022.16,"v":34.86,"s":"V4.4","g":"r1"},{"t":2022.25,"v":34.67,"s":"V4.4","g":"r1"},{"t":2022.32,"v":34.51,"s":"V4.4","g":"r1"},{"t":2022.41,"v":34.95,"s":"V4.4","g":"r1"},{"t":2022.5,"v":34.26,"s":"V4.4","g":"r1"}
 ],
 "avg": [
  {"km":40,"v":32.828,"s":"W"},{"km":75,"v":32.973,"s":"W"},{"km":125,"v":32.684,"s":"W"},{"km":175,"v":32.809,"s":"W"},{"km":225,"v":33.246,"s":"W"},
  {"km":40,"v":33.425,"s":"SW"},{"km":75,"v":33.51,"s":"SW"},{"km":125,"v":33.733,"s":"SW"},{"km":175,"v":33.88,"s":"SW"},{"km":225,"v":34.037,"s":"SW"},{"km":275,"v":34.13,"s":"SW"},{"km":325,"v":34.279,"s":"SW"},{"km":375,"v":34.29,"s":"SW"},
  {"km":40,"v":34.485,"s":"S"},{"km":75,"v":34.571,"s":"S"},{"km":125,"v":34.672,"s":"S"},{"km":175,"v":34.692,"s":"S"},{"km":225,"v":34.696,"s":"S"},{"km":275,"v":34.704,"s":"S"},{"km":325,"v":34.715,"s":"S"},{"km":375,"v":34.719,"s":"S"},
  {"km":40,"v":34.805,"s":"SE"},{"km":75,"v":34.774,"s":"SE"},{"km":125,"v":34.844,"s":"SE"},{"km":175,"v":34.844,"s":"SE"},{"km":225,"v":34.86,"s":"SE"},{"km":275,"v":34.875,"s":"SE"},{"km":325,"v":34.895,"s":"SE"},{"km":375,"v":34.914,"s":"SE"}
 ],
 "dif": [
  {"km":40,"v":0.309,"s":"W"},{"km":75,"v":0.119,"s":"W"},{"km":125,"v":-0.05,"s":"W"},{"km":175,"v":0.047,"s":"W"},{"km":225,"v":-0.21,"s":"W"},
  {"km":40,"v":1.24,"s":"SW"},{"km":75,"v":0.034,"s":"SW"},{"km":125,"v":-0.106,"s":"SW"},{"km":175,"v":-0.04,"s":"SW"},{"km":225,"v":0.004,"s":"SW"},{"km":275,"v":0.085,"s":"SW"},{"km":325,"v":0.042,"s":"SW"},{"km":375,"v":0.085,"s":"SW"},
  {"km":40,"v":1.686,"s":"S"},{"km":75,"v":0.246,"s":"S"},{"km":125,"v":-0.03,"s":"S"},{"km":175,"v":-0.017,"s":"S"},{"km":225,"v":0.008,"s":"S"},{"km":275,"v":0.02,"s":"S"},{"km":325,"v":0.025,"s":"S"},{"km":375,"v":0.03,"s":"S"},
  {"km":40,"v":2.5,"s":"SE"},{"km":75,"v":0.013,"s":"SE"},{"km":125,"v":-0.05,"s":"SE"},{"km":175,"v":-0.04,"s":"SE"},{"km":225,"v":0.0,"s":"SE"},{"km":275,"v":0.013,"s":"SE"},{"km":325,"v":0.02,"s":"SE"},{"km":375,"v":0.02,"s":"SE"}
 ],
 "tlLab": [{"t":2016.5,"v":35.18,"label":"V4.4","s":"V4.4"},{"t":2016.5,"v":32.99,"label":"data","s":"data"},{"t":2016.5,"v":32.49,"label":"CATDS","s":"CATDS"}],
 "blLab": [{"t":2016.47,"v":35.2,"label":"V4.4","s":"V4.4"},{"t":2016.48,"v":33.0,"label":"data","s":"data"},{"t":2016.47,"v":31.99,"label":"CATDS","s":"CATDS"}],
 "avgLab": [{"km":200,"v":34.876,"label":"SE","s":"SE"},{"km":200,"v":34.485,"label":"S","s":"S"},{"km":200,"v":34.096,"label":"SW","s":"SW"},{"km":200,"v":33.297,"label":"W","s":"W"}],
 "difLab": [{"km":20.4,"v":2.27,"label":"SE","s":"SE"},{"km":20.4,"v":1.686,"label":"S","s":"S"},{"km":20.4,"v":1.178,"label":"SW","s":"SW"},{"km":20.4,"v":0.288,"label":"W","s":"W"}]
},
"spacing": -5,
"hconcat": [
 {
  "bounds": "flush",
  "spacing": 80,
  "vconcat": [
   {
    "width": 610, "height": 243.5,
    "title": {"text": "SSS 100–150 km", "fontSize": 16, "fontWeight": "bold", "offset": 3, "dx": -16},
    "layer": [
     {"data": {"values": [{}]}, "mark": {"type": "rect", "color": "#bdbdbd"},
      "encoding": {"x": {"datum": 2010.26, "type": "quantitative", "axis": null}, "x2": {"datum": 2023.875}, "y": {"datum": 35.6035, "type": "quantitative", "axis": null}, "y2": {"datum": 35.505}}},
     {"data": {"name": "tl"}, "mark": {"type": "line", "strokeWidth": 4, "clip": true, "strokeJoin": "round", "strokeCap": "round"},
      "encoding": {
       "x": {"field": "t", "type": "quantitative", "scale": {"domain": [2010, 2023], "nice": false, "zero": false},
             "axis": {"orient": "bottom", "title": null, "values": [2010,2011,2012,2013,2014,2015,2016,2017,2018,2019,2020,2021,2022,2023], "format": "d", "labelExpr": "datum.value % 5 == 0 ? datum.label : ''", "labelFontSize": 20, "labelFontWeight": "bold"}},
       "y": {"field": "v", "type": "quantitative", "scale": {"domain": [31.5, 35.5], "nice": false, "zero": false},
             "axis": {"orient": "left", "title": null, "values": [31.5,32,32.5,33,33.5,34,34.5,35,35.5], "format": ".0f", "labelExpr": "datum.value % 1 == 0 ? datum.label : ''", "labelFontSize": 20}},
       "color": {"field": "s", "type": "nominal", "legend": null, "scale": {"domain": ["data","CATDS","V4.4","W","SW","S","SE"], "range": ["#0000ff","#00ff00","#ff0000","#0000ff","#ff0000","#00ff00","#000000"]}},
       "detail": {"field": "g", "type": "nominal"}
      }},
     {"data": {"name": "tl"}, "mark": {"type": "point", "opacity": 0},
      "encoding": {
       "x": {"field": "t", "type": "quantitative", "axis": {"orient": "top", "title": null, "labels": false, "values": [2010,2011,2012,2013,2014,2015,2016,2017,2018,2019,2020,2021,2022,2023]}},
       "y": {"field": "v", "type": "quantitative", "axis": {"orient": "right", "title": null, "labels": false, "values": [31.5,32,32.5,33,33.5,34,34.5,35,35.5]}}
      }},
     {"data": {"name": "tlLab"}, "mark": {"type": "text", "fontSize": 20, "fontWeight": "bold", "align": "center", "baseline": "middle"},
      "encoding": {"x": {"field": "t", "type": "quantitative", "axis": null}, "y": {"field": "v", "type": "quantitative", "axis": null}, "text": {"field": "label"},
       "color": {"field": "s", "type": "nominal", "legend": null, "scale": {"domain": ["data","CATDS","V4.4","W","SW","S","SE"], "range": ["#0000ff","#00ff00","#ff0000","#0000ff","#ff0000","#00ff00","#000000"]}}}},
     {"data": {"values": [{"t": 2011.29, "v": 32.12, "label": "SW"}]}, "mark": {"type": "text", "fontSize": 33, "color": "#ff0000", "align": "center", "baseline": "middle"},
      "encoding": {"x": {"field": "t", "type": "quantitative", "axis": null}, "y": {"field": "v", "type": "quantitative", "axis": null}, "text": {"field": "label"}}},
     {"data": {"values": [{}]}, "mark": {"type": "rule", "color": "#1f9edb", "strokeWidth": 5.5},
      "encoding": {"x": {"datum": 2021.71, "type": "quantitative", "axis": null}, "y": {"datum": 32.05, "type": "quantitative", "axis": null}, "y2": {"datum": 30.9}}},
     {"data": {"values": [{}]}, "mark": {"type": "point", "shape": "triangle-down", "filled": true, "color": "#1f9edb", "opacity": 1, "size": 250},
      "encoding": {"x": {"datum": 2021.71, "type": "quantitative", "axis": null}, "y": {"datum": 30.79, "type": "quantitative", "axis": null}}}
    ],
    "resolve": {"axis": {"x": "independent", "y": "independent"}}
   },
   {
    "width": 610, "height": 243.5,
    "title": {"text": "SSS 50–100 km", "fontSize": 16, "fontWeight": "bold", "offset": -4, "dx": -16},
    "layer": [
     {"data": {"name": "bl"}, "mark": {"type": "line", "strokeWidth": 4, "clip": true, "strokeJoin": "round", "strokeCap": "round"},
      "encoding": {
       "x": {"field": "t", "type": "quantitative", "scale": {"domain": [2010, 2023], "nice": false, "zero": false},
             "axis": {"orient": "bottom", "title": null, "values": [2010,2011,2012,2013,2014,2015,2016,2017,2018,2019,2020,2021,2022,2023], "format": "d", "labelExpr": "datum.value % 5 == 0 ? datum.label : ''", "labelFontSize": 20, "labelFontWeight": "bold"}},
       "y": {"field": "v", "type": "quantitative", "scale": {"domain": [31.5, 35.5], "nice": false, "zero": false},
             "axis": {"orient": "left", "title": null, "values": [31.5,32,32.5,33,33.5,34,34.5,35,35.5], "format": ".0f", "labelExpr": "datum.value % 1 == 0 ? datum.label : ''", "labelFontSize": 20}},
       "color": {"field": "s", "type": "nominal", "legend": null, "scale": {"domain": ["data","CATDS","V4.4","W","SW","S","SE"], "range": ["#0000ff","#00ff00","#ff0000","#0000ff","#ff0000","#00ff00","#000000"]}},
       "detail": {"field": "g", "type": "nominal"}
      }},
     {"data": {"name": "bl"}, "mark": {"type": "point", "opacity": 0},
      "encoding": {
       "x": {"field": "t", "type": "quantitative", "axis": {"orient": "top", "title": null, "labels": false, "values": [2010,2011,2012,2013,2014,2015,2016,2017,2018,2019,2020,2021,2022,2023]}},
       "y": {"field": "v", "type": "quantitative", "axis": {"orient": "right", "title": null, "labels": false, "values": [31.5,32,32.5,33,33.5,34,34.5,35,35.5]}}
      }},
     {"data": {"name": "blLab"}, "mark": {"type": "text", "fontSize": 20, "fontWeight": "bold", "align": "center", "baseline": "middle"},
      "encoding": {"x": {"field": "t", "type": "quantitative", "axis": null}, "y": {"field": "v", "type": "quantitative", "axis": null}, "text": {"field": "label"},
       "color": {"field": "s", "type": "nominal", "legend": null, "scale": {"domain": ["data","CATDS","V4.4","W","SW","S","SE"], "range": ["#0000ff","#00ff00","#ff0000","#0000ff","#ff0000","#00ff00","#000000"]}}}},
     {"data": {"values": [{"t": 2010.95, "v": 32.26, "label": "S"}]}, "mark": {"type": "text", "fontSize": 32, "color": "#8fcf3c", "align": "center", "baseline": "middle"},
      "encoding": {"x": {"field": "t", "type": "quantitative", "axis": null}, "y": {"field": "v", "type": "quantitative", "axis": null}, "text": {"field": "label"}}}
    ],
    "resolve": {"axis": {"x": "independent", "y": "independent"}}
   }
  ]
 },
 {
  "bounds": "flush",
  "spacing": 63.6,
  "vconcat": [
   {"width": 453.5, "height": 6.1, "view": {"stroke": null}, "data": {"values": [{}]},
    "mark": {"type": "rect", "color": "#bdbdbd"},
    "encoding": {"x": {"datum": -0.1268, "type": "quantitative", "scale": {"domain": [0, 1], "nice": false, "zero": false}, "axis": null}, "x2": {"datum": 1.0794},
                 "y": {"datum": 2.033, "type": "quantitative", "scale": {"domain": [0, 1], "nice": false, "zero": false}, "axis": null}, "y2": {"datum": 1.049}}},
   {
    "width": 453.5, "height": 213,
    "title": {"text": "average S (CCI V4.4)", "fontSize": 15.5, "fontWeight": "normal", "offset": 2.7},
    "view": {"strokeWidth": 2},
    "layer": [
     {"data": {"name": "avg"}, "mark": {"type": "line", "strokeWidth": 3.5, "clip": true, "strokeJoin": "round"},
      "encoding": {
       "x": {"field": "km", "type": "quantitative", "scale": {"domain": [0, 400], "nice": false},
             "axis": {"orient": "bottom", "title": null, "values": [0,50,100,150,200,250,300,350,400], "labelExpr": "datum.value == 400 ? '400 km' : (datum.value % 100 == 0 && datum.value > 0 ? datum.label : '')", "labelFontSize": 16, "labelFontWeight": "bold"}},
       "y": {"field": "v", "type": "quantitative", "scale": {"domain": [32.5, 35], "nice": false, "zero": false},
             "axis": {"orient": "left", "title": null, "values": [32.5,33,33.5,34,34.5,35], "format": ".0f", "labelExpr": "datum.value % 1 == 0 ? datum.label : ''", "labelFontSize": 16}},
       "color": {"field": "s", "type": "nominal", "legend": null, "scale": {"domain": ["data","CATDS","V4.4","W","SW","S","SE"], "range": ["#0000ff","#00ff00","#ff0000","#0000ff","#ff0000","#00ff00","#000000"]}}
      }},
     {"data": {"name": "avg"}, "mark": {"type": "point", "opacity": 0},
      "encoding": {
       "x": {"field": "km", "type": "quantitative", "axis": {"orient": "top", "title": null, "labels": false, "values": [0,50,100,150,200,250,300,350,400]}},
       "y": {"field": "v", "type": "quantitative", "axis": {"orient": "right", "title": null, "labels": false, "values": [32.5,33,33.5,34,34.5,35]}}
      }},
     {"data": {"name": "avgLab"}, "mark": {"type": "text", "fontSize": 15, "fontWeight": "bold", "align": "center", "baseline": "middle"},
      "encoding": {"x": {"field": "km", "type": "quantitative", "axis": null}, "y": {"field": "v", "type": "quantitative", "axis": null}, "text": {"field": "label"},
       "color": {"field": "s", "type": "nominal", "legend": null, "scale": {"domain": ["data","CATDS","V4.4","W","SW","S","SE"], "range": ["#0000ff","#00ff00","#ff0000","#0000ff","#ff0000","#00ff00","#000000"]}}}}
    ],
    "resolve": {"axis": {"x": "independent", "y": "independent"}}
   },
   {
    "width": 453.5, "height": 213,
    "title": {"text": "average S diff (CCI V4.4 – in situ)", "fontSize": 15.5, "fontWeight": "normal", "offset": -2},
    "view": {"strokeWidth": 2},
    "layer": [
     {"data": {"name": "dif"}, "mark": {"type": "line", "strokeWidth": 3.5, "clip": true, "strokeJoin": "round"},
      "encoding": {
       "x": {"field": "km", "type": "quantitative", "scale": {"domain": [0, 400], "nice": false},
             "axis": {"orient": "bottom", "title": null, "values": [0,50,100,150,200,250,300,350,400], "labelExpr": "datum.value == 400 ? '400 km' : (datum.value % 100 == 0 && datum.value > 0 ? datum.label : '')", "labelFontSize": 16, "labelFontWeight": "bold"}},
       "y": {"field": "v", "type": "quantitative", "scale": {"domain": [-0.21, 2.5], "nice": false, "zero": false},
             "axis": {"orient": "left", "title": null, "values": [0,0.5,1,1.5,2,2.5], "format": ".1f", "labelFontSize": 16}},
       "color": {"field": "s", "type": "nominal", "legend": null, "scale": {"domain": ["data","CATDS","V4.4","W","SW","S","SE"], "range": ["#0000ff","#00ff00","#ff0000","#0000ff","#ff0000","#00ff00","#000000"]}}
      }},
     {"data": {"name": "dif"}, "mark": {"type": "point", "opacity": 0},
      "encoding": {
       "x": {"field": "km", "type": "quantitative", "axis": {"orient": "top", "title": null, "labels": false, "values": [0,50,100,150,200,250,300,350,400]}},
       "y": {"field": "v", "type": "quantitative", "axis": {"orient": "right", "title": null, "labels": false, "values": [0,0.5,1,1.5,2,2.5]}}
      }},
     {"data": {"name": "difLab"}, "mark": {"type": "text", "fontSize": 16, "fontWeight": "bold", "align": "center", "baseline": "middle"},
      "encoding": {"x": {"field": "km", "type": "quantitative", "axis": null}, "y": {"field": "v", "type": "quantitative", "axis": null}, "text": {"field": "label"},
       "color": {"field": "s", "type": "nominal", "legend": null, "scale": {"domain": ["data","CATDS","V4.4","W","SW","S","SE"], "range": ["#0000ff","#00ff00","#ff0000","#0000ff","#ff0000","#00ff00","#000000"]}}}}
    ],
    "resolve": {"axis": {"x": "independent", "y": "independent"}}
   }
  ]
 }
]
}
